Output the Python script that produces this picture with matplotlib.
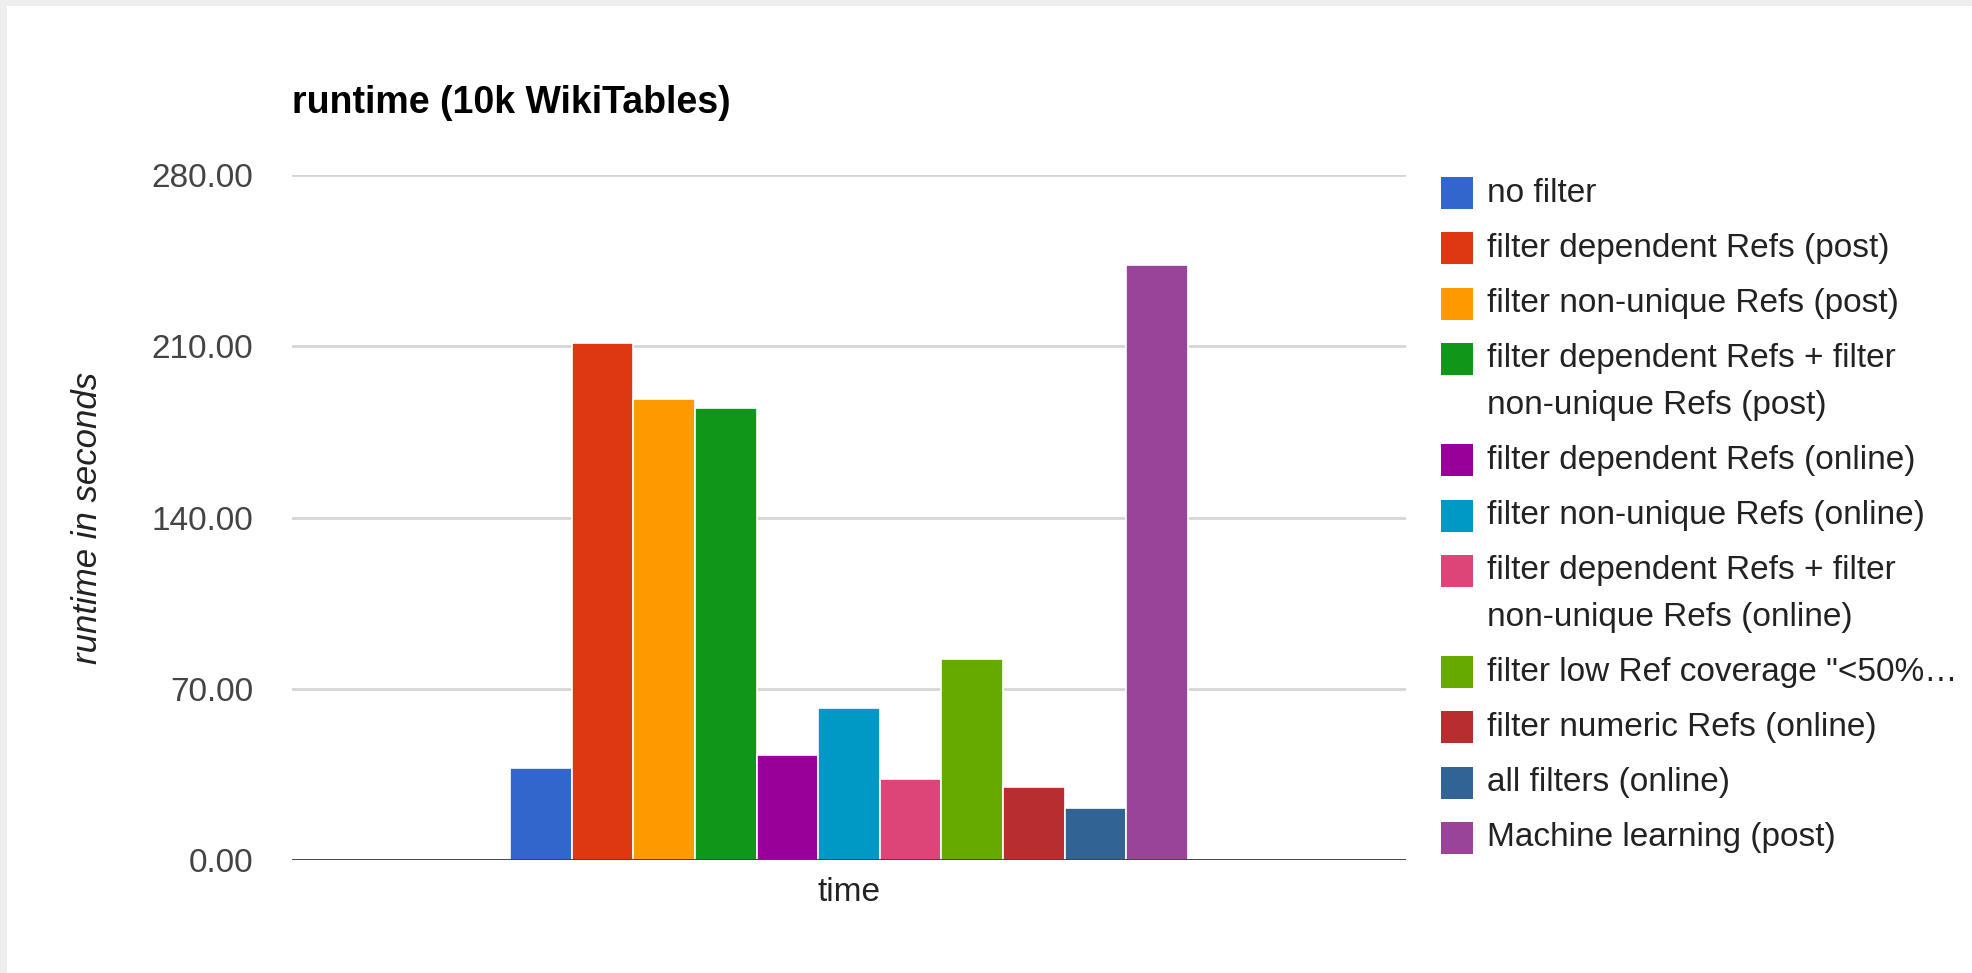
import matplotlib
matplotlib.use("Agg")
import matplotlib.pyplot as plt
from matplotlib.patches import Rectangle
import numpy as np

# runtime per filter configuration, one bar each on the single "time" category
series = [
    "no filter",
    "filter dependent Refs (post)",
    "filter non-unique Refs (post)",
    "filter dependent Refs + filter\nnon-unique Refs (post)",
    "filter dependent Refs (online)",
    "filter non-unique Refs (online)",
    "filter dependent Refs + filter\nnon-unique Refs (online)",
    "filter low Ref coverage \"<50%\u2026",
    "filter numeric Refs (online)",
    "all filters (online)",
    "Machine learning (post)",
]
runtimes = [37.8, 211.4, 188.4, 184.6, 43.0, 62.0, 33.0, 82.0, 30.0, 21.2, 243.4]
colors = ["#3366cc", "#dc3912", "#ff9900", "#109618", "#990099", "#0099c6",
          "#dd4477", "#66aa00", "#b82e2e", "#316395", "#994499"]
yticks = [0, 70, 140, 210, 280]
category = "time"

plt.rcParams["font.family"] = ["Liberation Sans", "DejaVu Sans"]

W, H = 1972, 973
fig = plt.figure(figsize=(W / 100, H / 100), dpi=100)
fig.patch.set_facecolor("#eeeeee")
# white page inside the thin grey frame
fig.add_artist(Rectangle((7 / W, 0), 1 - 7 / W, 1 - 6 / H, transform=fig.transFigure,
                         facecolor="white", edgecolor="none", zorder=-10))

ax = fig.add_axes([292 / W, 1 - 860 / H, (1406 - 292) / W, (860 - 175) / H])
ax.set_facecolor("none")

n = len(runtimes)
group = 0.608
bw = group / n
xs = -group / 2 + bw / 2 + np.arange(n) * bw
ax.bar(xs, runtimes, width=bw, color=colors, edgecolor="white", linewidth=1.2, zorder=3)

ax.set_xlim(-0.5, 0.5)
ax.set_ylim(0, 280)
ax.set_yticks(yticks)
ax.set_yticklabels([f"{v:.2f}" for v in yticks], fontsize=24, color="#444444")
ax.tick_params(axis="y", length=0, pad=28)
ax.set_xticks([])
for s in ax.spines.values():
    s.set_visible(False)
for v in yticks[1:]:
    ax.axhline(v, color="#d6d6d6", linewidth=2, zorder=1)
ax.axhline(0, color="#333333", linewidth=2, zorder=4)

ax.set_xlabel(category, fontsize=24, color="#222222", labelpad=12)
ax.set_ylabel("runtime in seconds", fontsize=25, style="italic", color="#222222", labelpad=34)

fig.text(292 / W, 1 - 103 / H, "runtime (10k WikiTables)", fontsize=27, fontweight="bold",
         color="black", va="center", ha="left")

# legend drawn by hand so the swatch sits on the first line of wrapped labels
y = 193
for label, c in zip(series, colors):
    fig.add_artist(Rectangle((1441 / W, 1 - (y + 16) / H), 32 / W, 32 / H,
                             transform=fig.transFigure, facecolor=c, edgecolor="none"))
    for j, line in enumerate(label.split("\n")):
        fig.text(1487 / W, 1 - (y + j * 46.5) / H, line, fontsize=24, color="#222222",
                 va="center", ha="left")
    y += 55.3 + 46 * label.count("\n")

fig.savefig("out.png", dpi=100, facecolor=fig.get_facecolor())
